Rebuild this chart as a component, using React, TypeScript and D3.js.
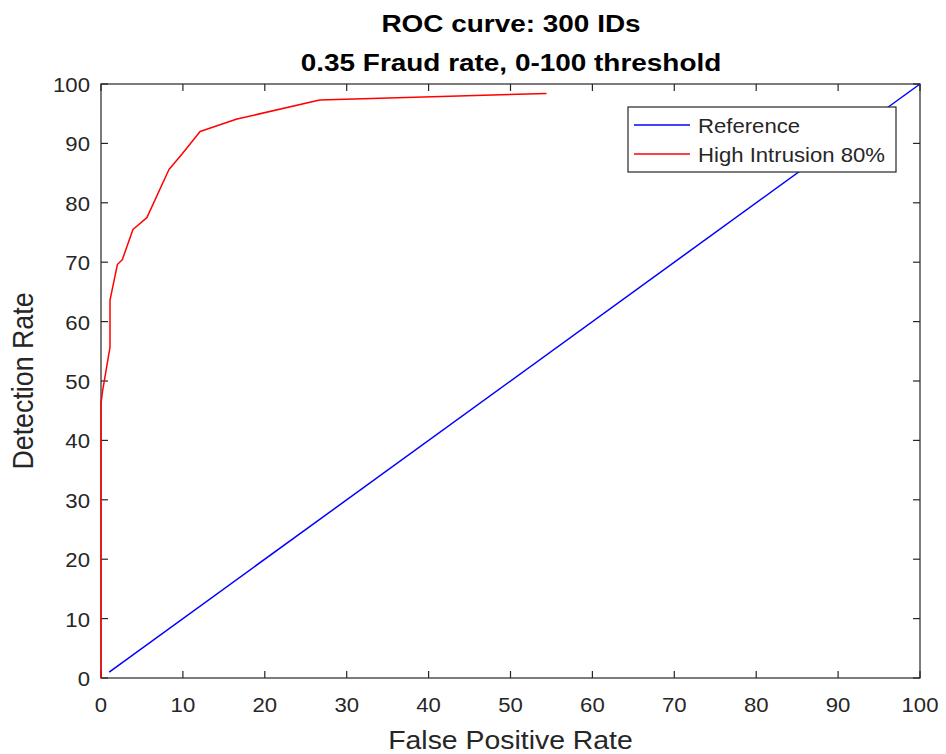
import React from "react";
import * as d3 from "d3";

const titleLines = ["ROC curve: 300 IDs", "0.35 Fraud rate, 0-100 threshold"];
const xLabel = "False Positive Rate";
const yLabel = "Detection Rate";
const xTicks = [0, 10, 20, 30, 40, 50, 60, 70, 80, 90, 100];
const yTicks = [0, 10, 20, 30, 40, 50, 60, 70, 80, 90, 100];

const referenceX = [1, 100];
const referenceY = [1, 100];

const intrusionFPR = [0, 0, 0.2, 1.1, 1.1, 2.0, 2.6, 3.9, 5.6, 8.3, 9.9, 12.1, 16.6, 26.7, 54.4];
const intrusionDR = [0, 46.2, 48.4, 55.7, 63.6, 69.6, 70.4, 75.5, 77.5, 85.6, 88.2, 92.0, 94.1, 97.3, 98.4];

const seriesNames = ["Reference", "High Intrusion 80%"];
const seriesColors = ["#0000ff", "#ff0000"];

const W = 946;
const H = 754;
const left = 101;
const right = 920;
const top = 84;
const bottom = 678;
const axisColor = "#262626";
const font = "'Liberation Sans', Arial, Helvetica, sans-serif";

export default function App() {
  const x = d3.scaleLinear().domain([0, 100]).range([left, right]);
  const y = d3.scaleLinear().domain([0, 100]).range([bottom, top]);
  const line = d3
    .line<[number, number]>()
    .x((d) => x(d[0]))
    .y((d) => y(d[1]));

  const refData: [number, number][] = referenceX.map((v, i) => [v, referenceY[i]]);
  const intrData: [number, number][] = intrusionFPR.map((v, i) => [v, intrusionDR[i]]);
  const tickLen = 7;
  const sx = 1.08;

  return (
    <div style={{ position: "absolute", left: 0, top: 0 }}>
      <svg width={W} height={H} style={{ display: "block", background: "#fff" }}>
        <rect x={0} y={0} width={W} height={H} fill="#fff" />
        <rect x={left} y={top} width={right - left} height={bottom - top} fill="#fff" />
        <path d={line(refData) || ""} fill="none" stroke={seriesColors[0]} strokeWidth={1.5} />
        <rect x={left} y={top} width={right - left} height={bottom - top} fill="none" stroke={axisColor} strokeWidth={1.2} />
        {xTicks.map((t) => (
          <g key={"xt" + t}>
            <line x1={x(t)} x2={x(t)} y1={bottom} y2={bottom - tickLen} stroke={axisColor} strokeWidth={1.2} />
            <line x1={x(t)} x2={x(t)} y1={top} y2={top + tickLen} stroke={axisColor} strokeWidth={1.2} />
            <text
              transform={`translate(${x(t)},${bottom + 34}) scale(${sx},1)`}
              textAnchor="middle"
              fontFamily={font}
              fontSize={20.5}
              fill={axisColor}
            >
              {t}
            </text>
          </g>
        ))}
        {yTicks.map((t) => (
          <g key={"yt" + t}>
            <line x1={left} x2={left + tickLen} y1={y(t)} y2={y(t)} stroke={axisColor} strokeWidth={1.2} />
            <line x1={right} x2={right - tickLen} y1={y(t)} y2={y(t)} stroke={axisColor} strokeWidth={1.2} />
            <text
              transform={`translate(${left - 11},${y(t) + 8}) scale(${sx},1)`}
              textAnchor="end"
              fontFamily={font}
              fontSize={20.5}
              fill={axisColor}
            >
              {t}
            </text>
          </g>
        ))}
        <path d={line(intrData) || ""} fill="none" stroke={seriesColors[1]} strokeWidth={1.5} strokeLinejoin="round" />
        {titleLines.map((s, i) => (
          <text
            key={"title" + i}
            transform={`translate(${(left + right) / 2 + 0.5},${32 + i * 38.5}) scale(1.14,1)`}
            textAnchor="middle"
            fontFamily={font}
            fontWeight="bold"
            fontSize={24.5}
            fill="#000"
          >
            {s}
          </text>
        ))}
        <text
          transform={`translate(${(left + right) / 2},${749}) scale(${sx},1)`}
          textAnchor="middle"
          fontFamily={font}
          fontSize={26.3}
          fill={axisColor}
        >
          {xLabel}
        </text>
        <text
          transform={`translate(${33},${381}) scale(${sx},1) rotate(-90)`}
          textAnchor="middle"
          fontFamily={font}
          fontSize={26.8}
          fill={axisColor}
        >
          {yLabel}
        </text>
        <g>
          <rect x={628} y={107} width={268} height={65} fill="#fff" stroke={axisColor} strokeWidth={1.2} />
          {seriesNames.map((n, i) => (
            <g key={"leg" + i}>
              <line x1={634} x2={690} y1={125 + i * 29} y2={125 + i * 29} stroke={seriesColors[i]} strokeWidth={1.5} />
              <text
                transform={`translate(${698},${125 + i * 29 + 7.5}) scale(${sx},1)`}
                fontFamily={font}
                fontSize={20.5}
                fill={axisColor}
              >
                {n}
              </text>
            </g>
          ))}
        </g>
      </svg>
    </div>
  );
}
